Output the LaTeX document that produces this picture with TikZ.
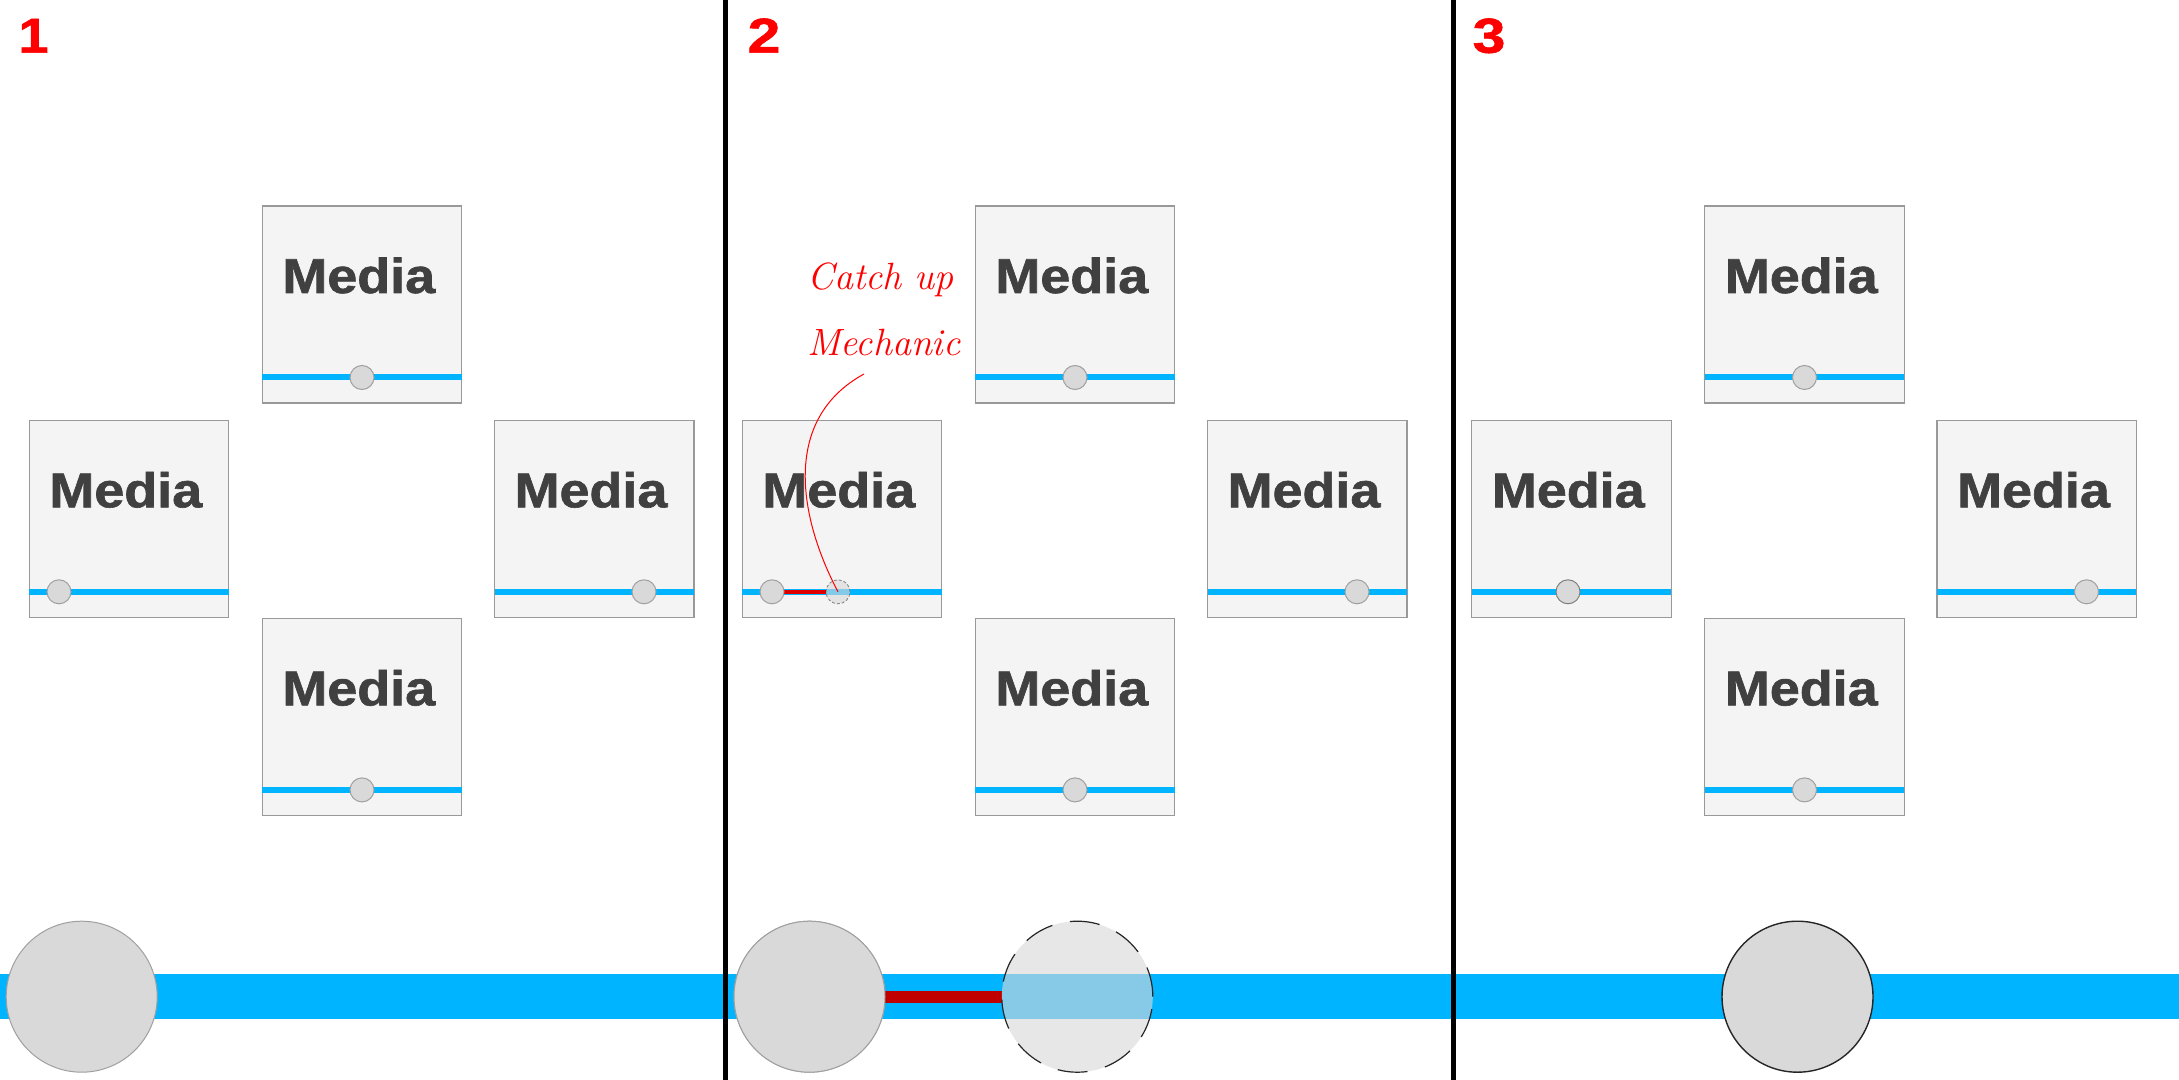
\documentclass[tikz,border=0pt]{standalone}
\usepackage{fontspec}
\usepackage{graphicx}
\newfontfamily\arialfont{Liberation Sans}
\newfontfamily\mediafont[FakeBold=1.2]{Liberation Sans Bold}
\usetikzlibrary{calc}
\definecolor{barblue}{HTML}{00B4FF}
\definecolor{boxfill}{HTML}{F4F4F4}
\definecolor{boxline}{HTML}{999999}
\definecolor{knobfill}{HTML}{D9D9D9}
\definecolor{knobline}{HTML}{A0A0A0}
\definecolor{knobdark}{HTML}{7F7F7F}
\definecolor{txtgray}{HTML}{404040}
\definecolor{darkred}{HTML}{C00000}
\definecolor{linkred}{HTML}{E00000}
\definecolor{numred}{HTML}{FF0000}
\tikzset{
  mediabox/.style={draw=boxline, fill=boxfill, line width=0.6pt, minimum width=99.7pt,
    minimum height=98.5pt, inner sep=0pt, outer sep=0pt, anchor=north west},
  medialabel/.style={text=txtgray, font=\mediafont\fontsize{24.5}{24.5}\selectfont,
    inner sep=0pt, anchor=base},
  seekline/.style={draw=barblue, line width=3pt},
  knob/.style={circle, draw=knobline, fill=knobfill, line width=0.5pt, minimum size=12pt, inner sep=0pt},
  ghostknob/.style={circle, draw=knobdark, dash pattern=on 1.5pt off 1pt, fill=knobfill, fill opacity=0.6,
    line width=0.4pt, minimum size=12pt, inner sep=0pt},
  bigknob/.style={circle, draw=knobline, fill=knobfill, line width=0.5pt, minimum size=75.5pt, inner sep=0pt},
  ghostbig/.style={circle, draw=black!85, dash pattern=on 15pt off 9pt, fill=knobfill, fill opacity=0.62,
    line width=0.6pt, minimum size=75.5pt, inner sep=0pt},
  panelnum/.style={text=numred, font=\mediafont\fontsize{24.5}{24.5}\selectfont, inner sep=0pt, anchor=base},
  divider/.style={draw=black, line width=2.2pt},
  callout/.style={text=numred, font=\itshape\fontsize{19}{19}\selectfont, inner sep=0pt, anchor=base west},
  callline/.style={draw=numred, line width=0.5pt},
  redlink/.style={draw=linkred, line width=1.8pt},
  redbar/.style={draw=darkred, line width=5.85pt}
}
\newcommand\mediaunit[4]{%
  \node[mediabox] (#1) at (#2,#3) {};
  \draw[seekline] ($(#1.north west)+(0,171.5)$) -- ($(#1.north east)+(0,171.5)$);
  \node[medialabel] (#1t) at ($(#1.north west)+(96.5,87)$) {\scalebox{1.1}[1]{Media}};
  \coordinate (#1kp) at ($(#1.north west)+(#4,171.5)$);
}
\begin{document}
\begin{tikzpicture}[x=0.5pt,y=-0.5pt]
\useasboundingbox (0,0) rectangle (2179,1080);
\fill[white] (0,0) rectangle (2179,1080);

% timeline bar
\fill[barblue] (0,974) rectangle (2179,1019);

% ---------- panel 1
\mediaunit{aT}{262.3}{206}{99.7}
\node[knob] (aTk) at (aTkp) {};
\mediaunit{aL}{29.3}{420.3}{29.7}
\node[knob] (aLk) at (aLkp) {};
\mediaunit{aR}{494.5}{420.3}{149.5}
\node[knob] (aRk) at (aRkp) {};
\mediaunit{aB}{262.3}{618.4}{99.7}
\node[knob] (aBk) at (aBkp) {};
\node[bigknob] (aBig) at (81.7,996.7) {};

% ---------- panel 2
\mediaunit{bT}{975.3}{206}{99.7}
\node[knob] (bTk) at (bTkp) {};
\mediaunit{bL}{742.3}{420.3}{29.7}
\coordinate (bLgp) at ($(bL.north west)+(95.7,171.5)$);
\mediaunit{bR}{1207.5}{420.3}{149.5}
\node[knob] (bRk) at (bRkp) {};
\mediaunit{bB}{975.3}{618.4}{99.7}
\node[knob] (bBk) at (bBkp) {};
\node[ghostknob] (bLg) at (bLgp) {};
\draw[redlink] (bLkp) -- (bLg.west);
\node[knob] (bLk) at (bLkp) {};

\node[bigknob] (bBig) at (809.5,996.7) {};
\coordinate (bGc) at (1077.3,996.7);
\draw[redbar] (bBig.center) -- ($(bGc)+(-75.5,0)$);
\node[bigknob] (bBig2) at (809.5,996.7) {};
\node[ghostbig] (bGhost) at (bGc) {};

% callout
\node[callout] (callA) at (807,290) {Catch up};
\node[callout] (callB) at (807,356) {Mechanic};
\draw[callline] ($(callB.base west)+(57,18)$) .. controls (780,420) and (800,520) .. (bLg.center);

% ---------- panel 3
\mediaunit{cT}{1704.8}{206}{99.7}
\node[knob] (cTk) at (cTkp) {};
\mediaunit{cL}{1471.8}{420.3}{96.2}
\node[knob, draw=knobdark] (cLk) at (cLkp) {};
\mediaunit{cR}{1937}{420.3}{149.5}
\node[knob] (cRk) at (cRkp) {};
\mediaunit{cB}{1704.8}{618.4}{99.7}
\node[knob] (cBk) at (cBkp) {};
\node[bigknob, draw=black!85, line width=0.7pt] (cBig) at (1797.5,996.7) {};

% dividers
\draw[divider] (725.3,0) -- (725.3,1080);
\draw[divider] (1453.5,0) -- (1453.5,1080);

% panel numbers
\node[panelnum] (n1) at (33.5,52.7) {\scalebox{1.1}[1]{1}};
\node[panelnum] (n2) at (764,52.7) {\scalebox{1.2}[1]{2}};
\node[panelnum] (n3) at (1489,52.7) {\scalebox{1.2}[1]{3}};
\end{tikzpicture}
\end{document}
